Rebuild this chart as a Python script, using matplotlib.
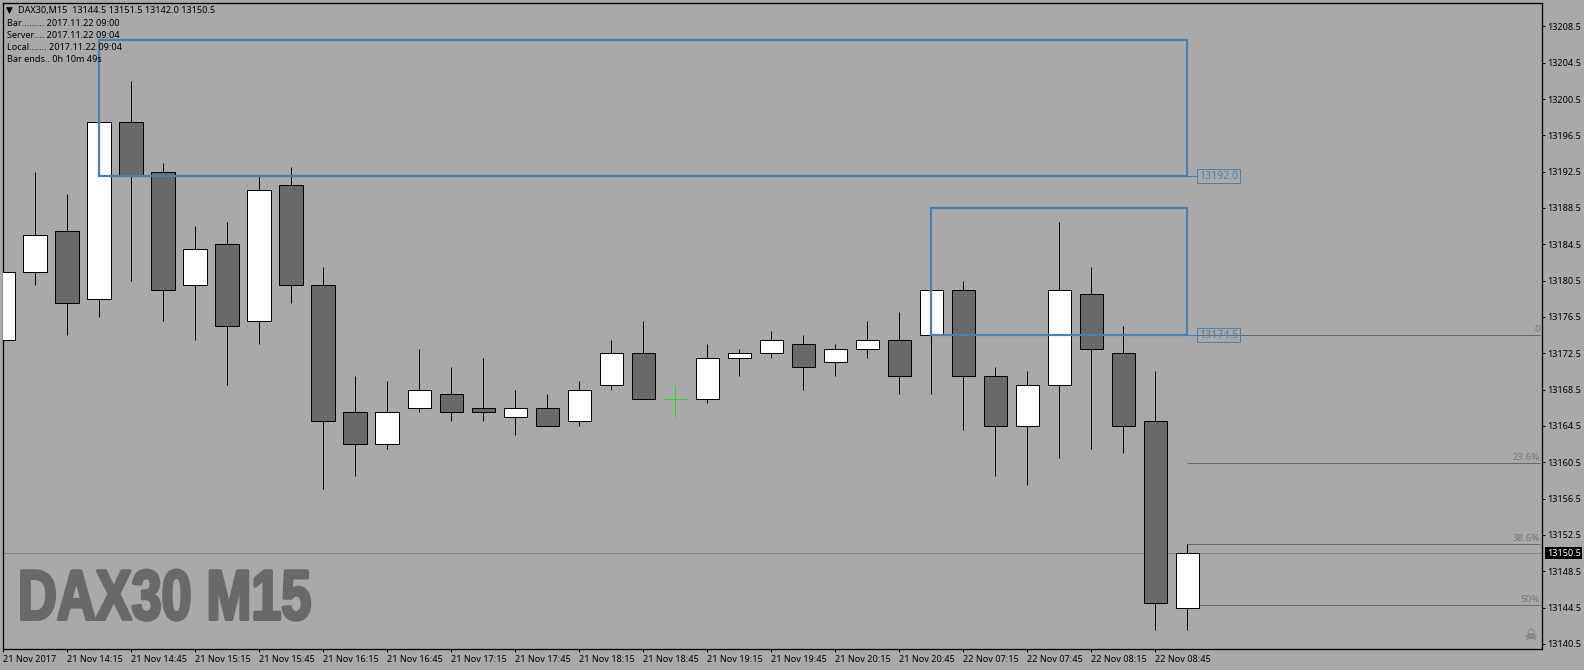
import matplotlib
matplotlib.use('Agg')
import matplotlib.pyplot as plt
import matplotlib.patheffects as pe
from matplotlib.patches import Rectangle
from matplotlib.transforms import Affine2D
import numpy as np

W, H = 1584, 670

opens = [13174.0, 13181.5, 13186.0, 13178.5, 13198.0, 13192.5, 13180.0, 13184.5, 13176.0, 13191.0,
         13180.0, 13166.0, 13162.5, 13166.5, 13168.0, 13166.5, 13165.5, 13166.5, 13165.0, 13169.0,
         13172.5, 13167.5, 13167.5, 13172.0, 13172.5, 13173.5, 13171.5, 13173.0, 13174.0, 13174.5,
         13179.5, 13170.0, 13164.5, 13169.0, 13179.0, 13172.5, 13165.0, 13144.5]
closes = [13181.5, 13185.5, 13178.0, 13198.0, 13192.0, 13179.5, 13184.0, 13175.5, 13190.5, 13180.0,
          13165.0, 13162.5, 13166.0, 13168.5, 13166.0, 13166.0, 13166.5, 13164.5, 13168.5, 13172.5,
          13167.5, 13167.5, 13172.0, 13172.5, 13174.0, 13171.0, 13173.0, 13174.0, 13170.0, 13179.5,
          13170.0, 13164.5, 13169.0, 13179.5, 13173.0, 13164.5, 13145.0, 13150.5]
highs = [13188.5, 13192.5, 13190.0, 13198.0, 13202.5, 13193.5, 13186.5, 13187.0, 13192.0, 13193.0,
         13182.0, 13170.0, 13169.5, 13173.0, 13171.0, 13172.0, 13168.5, 13168.0, 13169.5, 13174.0,
         13176.0, 13169.0, 13173.5, 13173.0, 13175.0, 13174.5, 13173.5, 13176.0, 13177.0, 13179.5,
         13180.5, 13171.0, 13170.5, 13187.0, 13182.0, 13175.5, 13170.5, 13151.5]
lows = [13169.5, 13180.0, 13174.5, 13176.5, 13180.5, 13176.0, 13174.0, 13169.0, 13173.5, 13178.0,
        13157.5, 13159.0, 13162.0, 13166.0, 13165.0, 13165.0, 13163.5, 13164.5, 13164.5, 13168.5,
        13167.5, 13165.5, 13167.0, 13170.0, 13172.0, 13168.5, 13170.0, 13172.0, 13168.0, 13168.0,
        13164.0, 13159.0, 13158.0, 13161.0, 13162.0, 13161.5, 13142.0, 13142.0]

x_labels = ['21 Nov 2017', '21 Nov 14:15', '21 Nov 14:45', '21 Nov 15:15', '21 Nov 15:45',
            '21 Nov 16:15', '21 Nov 16:45', '21 Nov 17:15', '21 Nov 17:45', '21 Nov 18:15',
            '21 Nov 18:45', '21 Nov 19:15', '21 Nov 19:45', '21 Nov 20:15', '21 Nov 20:45',
            '22 Nov 07:15', '22 Nov 07:45', '22 Nov 08:15', '22 Nov 08:45']
y_ticks = [13140.5 + 4 * i for i in range(18)]

# zones: first bar, last bar, top, bottom
zone_start = [3, 29]
zone_end = [37, 37]
zone_top = [13207.0, 13188.5]
zone_bottom = [13192.0, 13174.5]
zone_labels = ['13192.0', '13174.5']

fib_prices = [13174.5, 13160.4, 13151.5, 13144.8]
fib_labels = ['0', '23.6%', '38.6%', '50%']

last_price = 13150.5
info_lines = ['Bar......... 2017.11.22 09:00',
              'Server.... 2017.11.22 09:04',
              'Local....... 2017.11.22 09:04',
              'Bar ends.. 0h 10m 49s']
header = 'DAX30,M15  13144.5 13151.5 13142.0 13150.5'

BG = '#a9a9a9'
DARK = '#696969'
BLUE = '#4682b4'
FONT = 'Noto Sans'
FS = 6.55
PX = 0.72


def fx(x):
    return x / W


def fy(y):
    return 1 - y / H


class Squeeze(pe.AbstractPathEffect):
    # narrows the glyphs around x0 and fattens them, no condensed heavy font here
    def __init__(self, sx, x0, lw):
        super().__init__()
        self.sx = sx
        self.x0 = x0
        self.lw = lw

    def draw_path(self, renderer, gc, tpath, affine, rgbFace=None):
        aff = affine + Affine2D().translate(-self.x0, 0).scale(self.sx, 1).translate(self.x0, 0)
        gc0 = renderer.new_gc()
        gc0.copy_properties(gc)
        gc0.set_linewidth(self.lw)
        gc0.set_foreground(rgbFace)
        renderer.draw_path(gc0, tpath, aff, rgbFace)
        gc0.restore()


def plot_candles(ax):
    idx = np.arange(len(opens))
    o = np.array(opens)
    c = np.array(closes)
    hi = np.array(highs)
    lo = np.array(lows)
    doji = o == c
    up = c > o

    ax.vlines(idx[~doji], lo[~doji], hi[~doji], color='k', lw=PX, zorder=2)
    ax.vlines(idx[doji], lo[doji], hi[doji], color='#22dd22', lw=PX, zorder=2)
    ax.hlines(o[doji], idx[doji] - 0.375, idx[doji] + 0.375, color='#22dd22', lw=PX,
              zorder=2).set_snap(True)

    body = ~doji
    colors = np.where(up[body], 'white', DARK)
    ax.bar(idx[body], np.abs(c - o)[body], bottom=np.minimum(o, c)[body],
           width=0.74, color=colors, edgecolor='k', linewidth=PX, zorder=3)


def plot_zones(ax):
    label_x = 37.33
    for s, e, t, b, lab in zip(zone_start, zone_end, zone_top, zone_bottom, zone_labels):
        ax.add_patch(Rectangle((s - 0.01, b), e - s, t - b, fill=False,
                               edgecolor=BLUE, linewidth=1.6, zorder=5))
        ax.hlines(b, e, label_x, color=BLUE, lw=PX, zorder=5).set_snap(True)
        ax.text(label_x + 0.03, b, lab, color=BLUE, family=FONT, fontsize=7.6,
                va='center', ha='left', zorder=6,
                bbox=dict(fc='none', ec=BLUE, lw=PX, pad=1.2))


def plot_fibs(ax):
    for p, lab in zip(fib_prices, fib_labels):
        ax.hlines(p, 37, 48.02, color=DARK, lw=PX, zorder=1).set_snap(True)
        ax.annotate(lab, (48.02, p), xytext=(0, 0.5), textcoords='offset points',
                    color='#777777', family=FONT, fontsize=7, ha='right', va='bottom')


fig = plt.figure(figsize=(W / 100, H / 100), dpi=100, facecolor=BG)
ax = fig.add_axes([fx(2.5), fy(649), (1541.7 - 2.5) / W, (649 - 2.5) / H], facecolor=BG)

ax.set_xlim(-0.025, 48.07)
ax.set_ylim(13139.93, 13211.13)

ax.axhline(last_price, color='#778899', lw=PX, zorder=1)
plot_candles(ax)
plot_fibs(ax)
plot_zones(ax)

ax.yaxis.tick_right()
ax.set_yticks(y_ticks)
ax.set_yticklabels([f'{v:.1f}' for v in y_ticks], family=FONT, fontsize=FS)
ax.set_xticks(np.arange(0, 38, 2))
ax.set_xticklabels(x_labels, family=FONT, fontsize=FS, ha='left')
ax.tick_params(axis='y', length=2.4, width=PX, pad=1.2, colors='k')
ax.tick_params(axis='x', length=2.4, width=PX, pad=1.6, colors='k')
for sp in ax.spines.values():
    sp.set_linewidth(PX * 1.3)
    sp.set_color('k')

# price tag on the right
ax.annotate(f'{last_price:.1f}', (1, last_price), xycoords=('axes fraction', 'data'),
            xytext=(3.6, 0), textcoords='offset points', color='white', family=FONT,
            fontsize=FS, va='center', ha='left', zorder=10, annotation_clip=False,
            bbox=dict(fc='k', ec='k', lw=0, boxstyle='square,pad=0.2'))

# header block
fig.text(fx(6), fy(10.5), '\u25bc', fontsize=6.5, color='k', va='center', ha='left', family='DejaVu Sans')
fig.text(fx(18), fy(10.5), header, fontsize=FS, color='k', va='center', ha='left', family=FONT)
for y, line in zip([23.5, 35.5, 47.5, 60], info_lines):
    fig.text(fx(7), fy(y), line, fontsize=FS, color='k', va='center', ha='left', family=FONT)

# watermark
fig.text(fx(18), fy(619.5), 'DAX30 M15', color=DARK, family='Liberation Sans', weight='bold',
         fontsize=51, va='baseline', ha='left',
         path_effects=[Squeeze(0.76, 18, 2.2)])

fig.text(fx(1530), fy(636), '\u2620', color='#666666', fontsize=10, ha='center', va='center',
         family='DejaVu Sans')

fig.savefig('out.png', dpi=100, facecolor=BG)
